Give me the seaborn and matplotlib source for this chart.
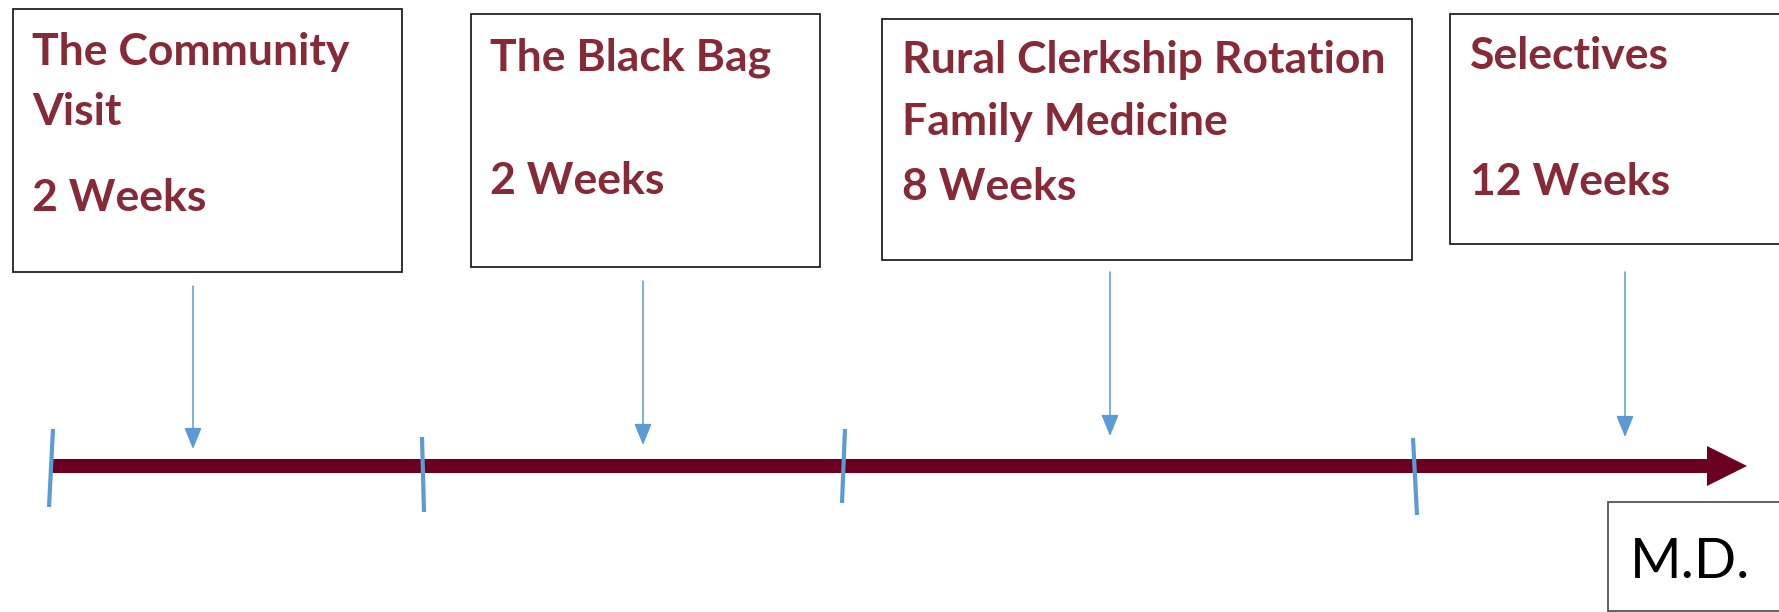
import matplotlib
matplotlib.use("Agg")
import matplotlib.pyplot as plt
import matplotlib.patches as mpatches
import seaborn as sns

# Data: what each stage is called and how long it lasts
stage_titles = [
    ["The Community", "Visit"],
    ["The Black Bag"],
    ["Rural Clerkship Rotation", "Family Medicine"],
    ["Selectives"],
]
stage_durations = ["2 Weeks", "2 Weeks", "8 Weeks", "12 Weeks"]
end_label = "M.D."

# Layout (pixel space of the 1779x612 canvas)
W, H = 1779, 612
box_x0 = [13, 471, 882, 1450]
box_x1 = [402, 820, 1412, 1800]
box_y0 = [9, 14, 19, 14]
box_y1 = [272, 267, 260, 244]
text_x = [32, 490, 902, 1470]
title_baselines = [[65, 125], [71], [73, 135], [69]]
duration_baseline = [211, 194, 200, 195]
pointer_x = [193, 643, 1110, 1625]
pointer_top = [286, 281, 272, 272]
pointer_tip = [449, 445, 436, 437]
tick_top = [(53, 429), (422, 437), (845, 429), (1413, 438)]
tick_bot = [(49, 507), (424, 512), (842, 503), (1417, 515)]

TEXT_RED = "#862a37"
LINE_RED = "#6b0020"
BLUE = "#5b9bd5"

sns.set_theme(style="white")
plt.rcParams["font.family"] = ["Lato", "DejaVu Sans"]

fig = plt.figure(figsize=(W / 100, H / 100), dpi=100)
ax = fig.add_axes([0, 0, 1, 1])
ax.set_xlim(0, W)
ax.set_ylim(H, 0)
ax.axis("off")

# stage boxes with text
for i in range(len(stage_titles)):
    ax.add_patch(mpatches.Rectangle(
        (box_x0[i], box_y0[i]), box_x1[i] - box_x0[i], box_y1[i] - box_y0[i],
        facecolor="white", edgecolor="#222222", linewidth=1.3, zorder=2))
    for line, base in zip(stage_titles[i], title_baselines[i]):
        ax.text(text_x[i], base, line, color=TEXT_RED, fontsize=32,
                fontweight="bold", ha="left", va="baseline", zorder=3)
    ax.text(text_x[i], duration_baseline[i], stage_durations[i], color=TEXT_RED,
            fontsize=32, fontweight="bold", ha="left", va="baseline", zorder=3)

# main timeline arrow
ax.add_patch(mpatches.FancyArrow(
    50, 466, 1747 - 50, 0, width=14, head_width=40, head_length=40,
    length_includes_head=True, facecolor=LINE_RED, edgecolor="none", zorder=4))

# blue slanted ticks on the timeline
for (x0, y0), (x1, y1) in zip(tick_top, tick_bot):
    ax.plot([x0, x1], [y0, y1], color=BLUE, lw=3, solid_capstyle="butt", zorder=5)

# thin pointers from each box down to the line
for x, y0, y1 in zip(pointer_x, pointer_top, pointer_tip):
    ax.annotate("", xy=(x, y1), xytext=(x, y0),
                arrowprops=dict(arrowstyle="-|>,head_length=1.1,head_width=0.45",
                                color=BLUE, lw=1.1, shrinkA=0, shrinkB=0),
                zorder=4)

# M.D. box at the end
ax.add_patch(mpatches.Rectangle((1608, 502), 300, 109, facecolor="white",
                                edgecolor="#555555", linewidth=1.3, zorder=2))
ax.text(1630, 578, end_label, color="black", fontsize=40, ha="left",
        va="baseline", zorder=3)

fig.savefig("out.png", dpi=100)
